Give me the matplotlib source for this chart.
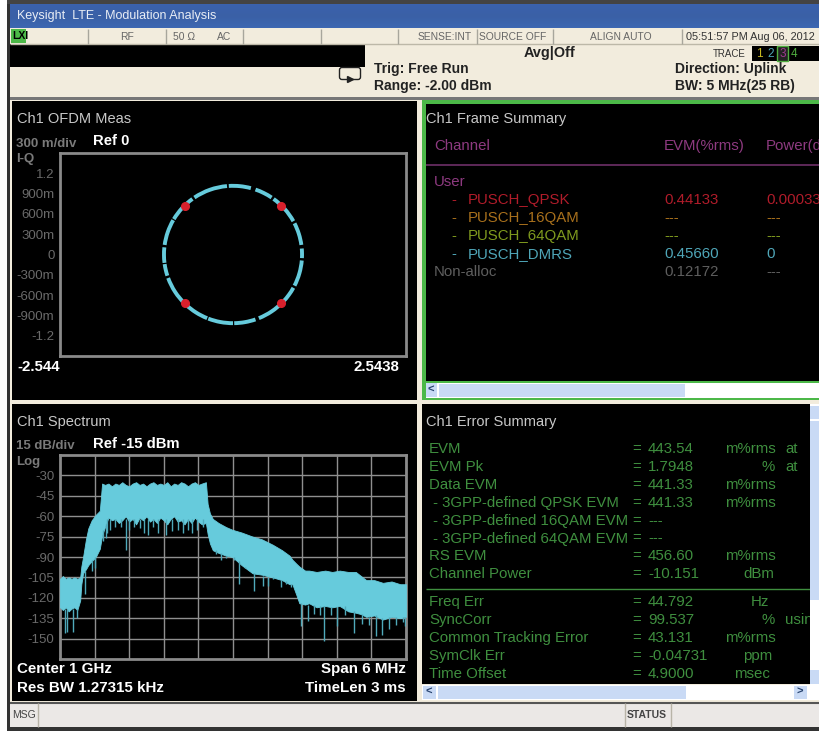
import matplotlib
matplotlib.use("Agg")
import matplotlib.pyplot as plt
import numpy as np
from matplotlib.colors import LinearSegmentedColormap
from matplotlib.patches import Arc, FancyBboxPatch, Rectangle

W, H = 819, 731
plt.rcParams["font.family"] = ["Liberation Sans", "DejaVu Sans"]

# IQ constellation: arcs of the ring in degrees, and the red QPSK points
ring_arcs = [(-89, -71), (-68, -44), (-43, -29), (-27, -5), (-3, 5), (8, 27), (29, 54), (56, 71), (75, 93.5),
             (95, 124), (126, 149), (150, 172), (174, 187), (188, 198), (200, 226), (227, 248), (249, 270)]
qpsk_i = [-0.71, 0.71, -0.71, 0.71]
qpsk_q = [0.71, 0.71, -0.71, -0.71]
iq_ticks = [1.2, 0.9, 0.6, 0.3, 0, -0.3, -0.6, -0.9, -1.2]
iq_tick_labels = ["1.2", "900m", "600m", "300m", "0", "-300m", "-600m", "-900m", "-1.2"]

# Spectrum: envelope, MHz from center / dBm
freq = [-3.00, -2.95, -2.90, -2.85, -2.80, -2.75, -2.70, -2.65, -2.63, -2.60, -2.55, -2.51, -2.45, -2.38, -2.31,
        -2.27, -2.22, -2.16, -2.10, -2.04, -1.98, -1.92, -1.86, -1.80, -1.74, -1.68, -1.62, -1.56, -1.50,
        -1.44, -1.38, -1.32, -1.26, -1.20, -1.14, -1.08, -1.02, -0.96, -0.90, -0.84, -0.78, -0.72, -0.66,
        -0.60, -0.54, -0.47, -0.44, -0.40, -0.35, -0.25, -0.12, -0.01, 0.15, 0.34, 0.50, 0.69, 0.85,
        0.98, 1.03, 1.10, 1.15, 1.25, 1.32, 1.45, 1.60, 1.72, 1.85, 2.00, 2.13, 2.22, 2.31, 2.45, 2.60, 2.75, 2.90, 3.00]
upper_db = [-106, -104, -106, -105, -106, -105, -106, -105, -97, -90, -77, -69, -63, -59, -56,
            -36, -37, -36, -38, -36, -37, -35, -37, -38, -36, -35, -37, -36, -38,
            -36, -35, -37, -36, -37, -35, -38, -36, -37, -35, -36, -38, -36, -35,
            -37, -36, -35, -51, -58, -62, -65, -68, -70, -72, -75, -77, -81, -85,
            -89, -92, -95, -97, -100, -100, -101, -100, -101, -100, -101, -101, -104, -107, -107, -109, -108, -110, -110]
lower_db = [-127, -129, -127, -130, -128, -127, -129, -122, -110, -102, -99, -96, -93, -90, -84,
            -74, -68, -61, -63, -62, -65, -63, -60, -64, -62, -66, -61, -63, -60,
            -64, -62, -65, -61, -63, -66, -62, -60, -64, -63, -66, -62, -65, -61,
            -64, -66, -65, -73, -80, -85, -87, -89, -90, -96, -102, -103, -105, -107,
            -110, -110, -118, -124, -125, -124, -127, -126, -127, -126, -130, -131, -132, -134, -133, -136, -134, -135, -134]
spike_freq = [-2.92, -2.88, -2.77, -2.70, -2.57, -2.45, -2.40,
              -2.25, -2.21, -2.18, -2.13, -2.04, -1.95, -1.86, -1.80, -1.71, -1.62, -1.54, -1.48, -1.38, -1.30,
              -1.17, -1.05, -0.96, -0.86, -0.78, -0.71, -0.62, -0.52,
              -0.30, -0.20, -0.12, 0.02, 0.10, 0.20, 0.36, 0.45, 0.52, 0.60, 0.70, 0.83, 0.92, 1.00,
              1.18, 1.30, 1.40, 1.50, 1.58, 1.70, 1.81, 1.95, 2.09, 2.24, 2.35, 2.48, 2.59, 2.70, 2.83, 2.95, 2.99]
spike_top = [-128, -128, -128, -128, -100, -92, -90,
             -70, -66, -62, -62, -62, -62, -62, -62, -62, -62, -62, -62, -62, -62,
             -62, -62, -62, -62, -62, -62, -62, -62,
             -85, -87, -89, -90, -93, -97, -102, -103, -104, -105, -106, -107, -108, -110,
             -124, -125, -125, -126, -126, -127, -127, -126, -130, -132, -134, -133, -135, -134, -134, -134, -134]
spike_db = [-146, -145, -145, -135, -117, -100, -98,
            -78, -76, -72, -70, -68, -68, -85, -70, -68, -69, -72, -74, -68, -72,
            -74, -71, -70, -72, -70, -72, -70, -68,
            -88, -92, -91, -92, -110, -98, -115, -103, -111, -111, -105, -112, -110, -112,
            -141, -137, -132, -133, -152, -133, -141, -133, -146, -139, -140, -148, -147, -143, -140, -138, -141]
spec_ticks = [-30, -45, -60, -75, -90, -105, -120, -135, -150]

# Table text
frame_rows = [("PUSCH_QPSK", "0.44133", "0.00033", "#b01c2a"),
              ("PUSCH_16QAM", "---", "---", "#a8701c"),
              ("PUSCH_64QAM", "---", "---", "#7f9a1e"),
              ("PUSCH_DMRS", "0.45660", "0", "#4fa6b8"),
              ("Non-alloc", "0.12172", "---", "#5e5e5e")]
error_rows = [("EVM", "=", "443.54", "m%rms", "at"),
              ("EVM Pk", "=", "1.7948", "%", "at"),
              ("Data EVM", "=", "441.33", "m%rms", ""),
              (" - 3GPP-defined QPSK EVM", "=", "441.33", "m%rms", ""),
              (" - 3GPP-defined 16QAM EVM", "=", "---", "", ""),
              (" - 3GPP-defined 64QAM EVM", "=", "---", "", ""),
              ("RS EVM", "=", "456.60", "m%rms", ""),
              ("Channel Power", "=", "-10.151", "dBm", "")]
error_rows2 = [("Freq Err", "=", "44.792", "Hz", ""),
               ("SyncCorr", "=", "99.537", "%", "using"),
               ("Common Tracking Error", "=", "43.131", "m%rms", ""),
               ("SymClk Err", "=", "-0.04731", "ppm", ""),
               ("Time Offset", "=", "4.9000", "msec", "")]
status_cells = [88, 166, 243, 321, 398, 477, 553, 682]

CREAM = "#f2ecdd"
GREY = "#8a8a8a"
TRACE = "#66cbdc"
GREEN = "#3f8f3f"
MAGENTA = "#8e3a80"
SCROLL = "#c9daf5"


def rect(ax, x0, y0, x1, y1, color, **kw):
    ax.add_patch(Rectangle((x0, y0), x1 - x0, y1 - y0, facecolor=color, edgecolor="none", **kw))


def label(ax, x, y, s, color="white", size=10, weight="normal", ha="left"):
    ax.text(x, y + 1, s, color=color, fontsize=size, fontweight=weight, ha=ha, va="center", zorder=3)


def plot_axes(fig, x0, y0, x1, y1):
    a = fig.add_axes([x0 / W, 1 - y1 / H, (x1 - x0) / W, (y1 - y0) / H], facecolor="black")
    for s in a.spines.values():
        s.set_color(GREY)
        s.set_linewidth(2)
    return a


fig = plt.figure(figsize=(W / 100, H / 100), dpi=100, facecolor="white")
bg = fig.add_axes([0, 0, 1, 1])
bg.axis("off")

# window chrome
rect(bg, 7, 0, W, H, CREAM)
rect(bg, 7, 0, 10, H - 3, "#333333")
rect(bg, 7, 0, W, 4, "#444444")
rect(bg, 7, H - 4, W, H, "#333333")
bg.imshow(np.linspace(0, 1, 24).reshape(-1, 1), extent=(10, W, 28, 4), aspect="auto", zorder=2,
          cmap=LinearSegmentedColormap.from_list("bar", ["#3b62ad", "#3a60a6", "#3d67b2"]))
bg.set_xlim(0, W)
bg.set_ylim(H, 0)
label(bg, 17, 15, "Keysight  LTE - Modulation Analysis", "#e8edf5", 9)

# status row
rect(bg, 10, 44, 365, 67, "black")
rect(bg, 11, 29, 26, 43, "#4cb848")
label(bg, 12, 35, "LXI", "black", 7.5, "bold")
rect(bg, 10, 97, W, 100, "#777777")
bg.hlines(44, 10, W, color="#bdb8a8", lw=1)
bg.vlines(status_cells, 29, 44, color="#a8a69c", lw=1)
for x, s in [(127, "RF"), (184, "50 Ω"), (224, "AC"), (445, "SENSE:INT"), (513, "SOURCE OFF"), (621, "ALIGN AUTO")]:
    label(bg, x, 35.5, s, "#666666", 7.4, ha="center")
label(bg, 686, 35.5, "05:51:57 PM Aug 06, 2012", "#333333", 7.8)
label(bg, 550, 52, "Avg|Off", "#222222", 10.4, "bold", ha="center")
label(bg, 374, 68, "Trig: Free Run", "#222222", 10, "bold")
label(bg, 374, 85, "Range: -2.00 dBm", "#222222", 10, "bold")
label(bg, 675, 68, "Direction: Uplink", "#222222", 10, "bold")
label(bg, 675, 85, "BW: 5 MHz(25 RB)", "#222222", 10, "bold")
label(bg, 713, 53, "TRACE", "#333333", 7)
rect(bg, 752, 46, W, 61, "black")
rect(bg, 777, 46, 788, 61, "#222222")
bg.add_patch(Rectangle((777, 46), 11, 15, facecolor="none", edgecolor="#4fae3f", lw=1))
for x, s, c in [(759, "1", "#c8b820"), (771, "2", "#4fa6b8"), (783, "3", "#a03a90"), (794, "4", "#4fae3f")]:
    label(bg, x, 53, s, c, 8.5, ha="center")
bg.add_patch(FancyBboxPatch((342, 70), 16, 7, boxstyle="round,pad=2.5", facecolor="none", edgecolor="#222222", lw=1))
bg.plot([350], [79], marker=">", ms=5, color="#222222")

# panels
rect(bg, 12, 101, 417, 400, "black")
rect(bg, 422, 100, W, 400, "#4cb848")
rect(bg, 426, 104, W, 381, "black")
rect(bg, 12, 404, 417, 701, "black")
rect(bg, 422, 404, 810, 684, "black")

# scroll bars sit above the text so long rows get cut by them
rect(bg, 426, 383, W, 398, "white", zorder=5)
rect(bg, 426, 383, 437, 397, SCROLL, zorder=5)
rect(bg, 439, 384, 685, 397, SCROLL, zorder=5)
rect(bg, 422, 685, 810, 700, "white", zorder=5)
rect(bg, 423, 686, 436, 699, SCROLL, zorder=5)
rect(bg, 438, 686, 686, 699, SCROLL, zorder=5)
rect(bg, 794, 686, 807, 699, SCROLL, zorder=5)
rect(bg, 810, 404, W, 700, "white", zorder=5)
rect(bg, 810, 406, W, 419, SCROLL, zorder=5)
rect(bg, 810, 421, W, 600, SCROLL, zorder=5)
rect(bg, 810, 670, W, 684, SCROLL, zorder=5)
for x, y, s in [(431, 389, "<"), (429, 691, "<"), (800, 691, ">")]:
    bg.text(x, y + 1, s, color="#26426e", fontsize=8, fontweight="bold", ha="center", va="center", zorder=6)

# message bar
rect(bg, 10, 703, W, 727, "#ebe8e6")
bg.hlines(703, 10, W, color="#555555", lw=1.5)
bg.vlines([38, 625, 671], 703, 727, color="#b8b4a8", lw=1)
label(bg, 12, 714, "MSG", "#444444", 7.5)
label(bg, 627, 714, "STATUS", "#444444", 7.5, "bold")

# left panel headings
label(bg, 17, 118, "Ch1 OFDM Meas", "#c8c8c8", 10.5)
label(bg, 16, 143, "300 m/div", "#7a7a7a", 9.5, "bold")
label(bg, 93, 140, "Ref 0", "white", 10.7, "bold")
label(bg, 16, 158, "I-Q", "#7a7a7a", 9.5, "bold")
label(bg, 17, 366, "-2.544", "white", 10.8, "bold")
label(bg, 399, 366, "2.5438", "white", 10.8, "bold", ha="right")
label(bg, 17, 421, "Ch1 Spectrum", "#c8c8c8", 10.5)
label(bg, 16, 445, "15 dB/div", "#7a7a7a", 9.5, "bold")
label(bg, 93, 443, "Ref -15 dBm", "white", 10.7, "bold")
label(bg, 16, 461, "Log", "#7a7a7a", 9.5, "bold")
label(bg, 17, 668, "Center 1 GHz", "white", 10.9, "bold")
label(bg, 17, 687, "Res BW 1.27315 kHz", "white", 10.9, "bold")
label(bg, 406, 668, "Span 6 MHz", "white", 10.9, "bold", ha="right")
label(bg, 406, 687, "TimeLen 3 ms", "white", 10.9, "bold", ha="right")

# frame summary
label(bg, 426, 118, "Ch1 Frame Summary", "#c8c8c8", 10.5)
label(bg, 434, 145, "Channel", MAGENTA, 10.8)
label(bg, 664, 145, "EVM(%rms)", MAGENTA, 10.8)
label(bg, 766, 145, "Power(dBm)", MAGENTA, 10.8)
bg.hlines(165, 426, W, color="#6e2f68", lw=1.2)
label(bg, 434, 181, "User", MAGENTA, 10.8)
for i, row in enumerate(frame_rows):
    y = 199 + 18 * i
    if row[0].startswith("PUSCH"):
        label(bg, 451, y, "-", row[3], 10.8)
        label(bg, 468, y, row[0], row[3], 10.8)
    else:
        label(bg, 434, y, row[0], row[3], 10.8)
    label(bg, 664, y, row[1], row[3], 10.8)
    label(bg, 766, y, row[2], row[3], 10.8)

# error summary
label(bg, 426, 421, "Ch1 Error Summary", "#c8c8c8", 10.5)
unit_x = {"m%rms": 725, "dBm": 743, "%": 761, "Hz": 751, "ppm": 743, "msec": 734}
for rows, y0 in [(error_rows, 448), (error_rows2, 601)]:
    for i, (name, eq, val, unit, extra) in enumerate(rows):
        y = y0 + 17.9 * i
        label(bg, 429, y, name, GREEN, 10.8)
        label(bg, 632, y, eq, GREEN, 10.8)
        label(bg, 648, y, val, GREEN, 10.8)
        if unit:
            label(bg, unit_x[unit], y, unit, GREEN, 10.8)
        if extra:
            label(bg, 785, y, extra, GREEN, 10.8)
bg.hlines(589, 426, 810, color=GREEN, lw=1)

# IQ plot
iq = plot_axes(fig, 60, 153, 406, 356)
iq.set_xlim(-2.544, 2.5438)
iq.set_ylim(-1.5, 1.5)
for a0, a1 in ring_arcs:
    iq.add_patch(Arc((0, 0), 2.03, 2.03, theta1=a0, theta2=a1, color=TRACE, lw=2.8))
iq.plot(qpsk_i, qpsk_q, "o", color="#d8202c", ms=5.5, ls="none")
iq.set_xticks([])
iq.set_yticks(iq_ticks)
iq.set_yticklabels(iq_tick_labels, color="#6a6a6a", fontsize=9.5)
iq.tick_params(axis="y", length=0, pad=4)

# spectrum plot
sp = plot_axes(fig, 60, 455, 406, 659)
sp.set_xlim(-3, 3)
sp.set_ylim(-165, -15)
sp.set_xticks(np.arange(-2.4, 3, 0.6))
sp.set_xticklabels([])
sp.set_yticks(spec_ticks)
sp.set_yticklabels(spec_ticks, color="#6a6a6a", fontsize=9.5)
sp.tick_params(axis="both", length=0, pad=4)
sp.grid(color="#8f8f8f", lw=1)
sp.set_axisbelow(True)
sp.fill_between(freq, lower_db, upper_db, color=TRACE, lw=0.6, zorder=3)
sp.vlines(spike_freq, spike_top, spike_db, color="#4fa9ba", lw=1, zorder=3)

fig.savefig("out.png", dpi=100, facecolor="white")
